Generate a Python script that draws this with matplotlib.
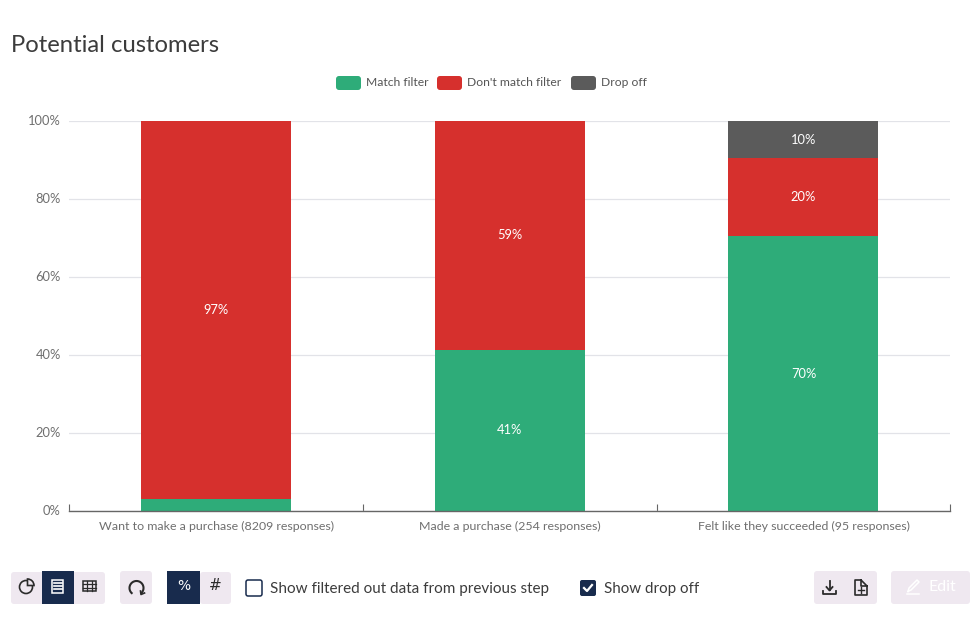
import numpy as np
import matplotlib
matplotlib.use("Agg")
import matplotlib.pyplot as plt
from matplotlib.patches import FancyBboxPatch, Rectangle, Wedge, Arc, Circle

plt.rcParams['font.family'] = ['Lato', 'DejaVu Sans']

W, H = 977, 637

categories = ["Want to make a purchase (8209 responses)",
              "Made a purchase (254 responses)",
              "Felt like they succeeded (95 responses)"]
match_filter = [3, 41.3, 70.4]
dont_match = [97, 58.7, 20]
drop_off = [0, 0, 9.6]
match_labels = ["", "41%", "70%"]
dont_labels = ["97%", "59%", "20%"]
drop_labels = ["", "", "10%"]
yticks = [0, 20, 40, 60, 80, 100]

GREEN = "#2eac79"
RED = "#d6302d"
GREY = "#5b5b5b"
NAVY = "#182b4d"
PALE = "#efe8f0"
TEXT = "#6f6f6f"

fig = plt.figure(figsize=(W / 100, H / 100), dpi=100)

# main chart
ax = fig.add_axes([69.3 / W, 1 - 511 / H, 881 / W, 390 / H])
x = np.arange(3)
bw = 150 / 293.67
ax.bar(x, match_filter, bw, color=GREEN, label="Match filter", zorder=3)
ax.bar(x, dont_match, bw, bottom=match_filter, color=RED, label="Don't match filter", zorder=3)
ax.bar(x, drop_off, bw, bottom=np.add(match_filter, dont_match), color=GREY, label="Drop off", zorder=3)
ax.set_xlim(-0.5, 2.5)
ax.set_ylim(0, 100)
ax.set_yticks(yticks)
ax.set_yticklabels([f"{v}%" for v in yticks], color=TEXT, fontsize=9.3, va='center')
ax.set_xticks([-0.5, 0.5, 1.5, 2.5])
ax.set_xticklabels([])
ax.tick_params(axis='x', length=5, color="#666666", width=0.8, direction='in', pad=0)
ax.tick_params(axis='y', length=0, pad=6)
ax.grid(axis='y', color="#e2e3e8", lw=0.9, zorder=0)
for s in ['top', 'left', 'right']:
    ax.spines[s].set_visible(False)
ax.spines['bottom'].set_color("#666666")
ax.spines['bottom'].set_linewidth(1.0)
ax.spines['bottom'].set_zorder(5)
for i, c in enumerate(categories):
    ax.annotate(c, (i, 0), xytext=(0, -11), textcoords='offset points', ha='center', va='center',
                color=TEXT, fontsize=8.9)
    m0, m1 = match_filter[i], dont_match[i]
    if match_labels[i]:
        ax.text(i, m0 / 2, match_labels[i], color="white", ha='center', va='center', fontsize=9.3, zorder=4)
    if dont_labels[i]:
        ax.text(i, m0 + m1 / 2, dont_labels[i], color="white", ha='center', va='center', fontsize=9.3, zorder=4)
    if drop_labels[i]:
        ax.text(i, m0 + m1 + drop_off[i] / 2, drop_labels[i], color="white", ha='center', va='center',
                fontsize=9.3, zorder=4)

# overlay in pixel coords for title, legend and toolbar
ov = fig.add_axes([0, 0, 1, 1], facecolor='none')
ov.set_xlim(0, W)
ov.set_ylim(H, 0)
ov.axis('off')

ov.text(11, 46, "Potential customers", fontsize=17.2, color="#3c3c3c", va='center', ha='left')


def box(x0, y0, w, h, color, r=3, **kw):
    p = FancyBboxPatch((x0 + r, y0 + r), w - 2 * r, h - 2 * r, boxstyle=f"round,pad={r},rounding_size={r}",
                       fc=color, ec=kw.pop('ec', 'none'), lw=kw.pop('lw', 0), **kw)
    ov.add_patch(p)


# legend
for lx, col, tx, name in [(336, GREEN, 366, "Match filter"), (437, RED, 467, "Don't match filter"),
                          (571, GREY, 601, "Drop off")]:
    box(lx, 76, 25, 14, col, r=3)
    ov.text(tx, 83, name, fontsize=8.7, color="#555555", va='center', ha='left')

# toolbar backgrounds
box(11, 572, 94, 32, PALE)
ov.add_patch(Rectangle((42, 571), 32, 33, fc=NAVY, ec='none'))
box(120, 571, 32, 33, PALE)
box(200, 572, 31, 32, PALE)
ov.add_patch(Rectangle((167, 571), 33, 33, fc=NAVY, ec='none'))
box(814, 571, 63, 33, PALE)
box(891, 571, 79, 33, PALE)

ICON = "#2b2b2b"
# pie icon
ov.add_patch(Circle((26, 587), 6.5, fc='none', ec=ICON, lw=1.2))
ov.add_patch(Wedge((27.5, 585.5), 6.5, -90, 0, fc=PALE, ec=ICON, lw=1.2))
# bars icon (selected)
ov.add_patch(Rectangle((52, 580), 11, 13, fc='none', ec='white', lw=1.1))
for yy in [583, 586, 589]:
    ov.plot([54, 62], [yy, yy], color='white', lw=1.2)
# table icon
ov.add_patch(Rectangle((83, 581), 13, 10, fc='none', ec=ICON, lw=1.1))
for xx in [87.3, 91.6]:
    ov.plot([xx, xx], [581, 591], color=ICON, lw=0.9)
for yy in [584.3, 587.6]:
    ov.plot([83, 96], [yy, yy], color=ICON, lw=0.9)
# refresh icon
ov.add_patch(Arc((136.5, 588), 14, 14, theta1=125, theta2=55, color=ICON, lw=1.5))
ov.plot([140.5, 141, 144.5], [591, 594.5, 593], color=ICON, lw=1.2)
# percent / hash
ov.text(183.5, 586, "%", color='white', fontsize=10, ha='center', va='center', family='DejaVu Sans')
ov.text(215, 586, "#", color=ICON, fontsize=11, ha='center', va='center', family='DejaVu Sans')

# checkboxes
box(246, 580, 16, 16, 'white', r=2, ec=NAVY, lw=1.1)
ov.text(270, 589, "Show filtered out data from previous step", fontsize=10.95, color="#3c3c3c", va='center', ha='left')
box(580, 580, 16, 16, NAVY, r=2)
ov.plot([584, 587, 592], [588, 591, 585], color='white', lw=1.6)
ov.text(604, 589, "Show drop off", fontsize=10.9, color="#3c3c3c", va='center', ha='left')

# download icon
ov.plot([829.5, 829.5], [581, 590], color=ICON, lw=1.3)
ov.plot([826.5, 829.5, 832.5], [587, 590.5, 587], color=ICON, lw=1.3)
ov.plot([823, 823, 836, 836], [590.5, 593.5, 593.5, 590.5], color=ICON, lw=1.3)
# new file icon
ov.plot([861, 855, 855, 867, 867, 861, 861, 867], [580, 580, 595, 595, 586, 580, 586, 586], color=ICON, lw=1.2)
ov.plot([858, 864], [590, 590], color=ICON, lw=1)
ov.plot([861, 861], [587, 593], color=ICON, lw=1)
# disabled edit button
ov.plot([907, 919], [594, 594], color='white', lw=1.1)
ov.plot([908, 909, 917, 919, 911, 908], [591.5, 588, 580, 582, 590, 591.5], color='white', lw=1.1)
ov.text(929, 587, "Edit", fontsize=11.5, color='white', va='center', ha='left')

fig.savefig("out.png", dpi=100)
